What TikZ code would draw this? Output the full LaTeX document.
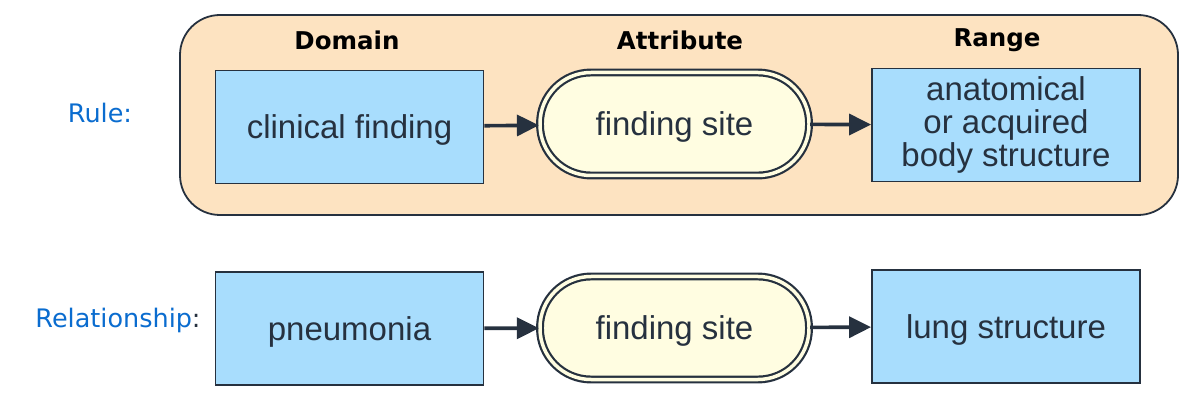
\documentclass[tikz,border=0pt]{standalone}
\usepackage{fontspec}
\setmainfont{Liberation Sans}
\newfontfamily\lblfont{DejaVu Sans}
\usetikzlibrary{arrows.meta}
\definecolor{conceptblue}{HTML}{A8DDFD}
\definecolor{inkdark}{HTML}{26313F}
\definecolor{groupfill}{HTML}{FDE3C1}
\definecolor{attfill}{HTML}{FFFDE1}
\definecolor{rowblue}{HTML}{0A6CCF}
\begin{document}
\begin{tikzpicture}[x=1pt, y=1pt,
    concept/.style = {shape=rectangle, draw=inkdark, line width=1.8pt,
      fill=conceptblue, text=inkdark, align=center,
      minimum width=268pt, minimum height=113pt,
      font=\fontsize{33}{33}\selectfont},
    attrib/.style = {shape=rectangle, rounded corners=51pt, draw=inkdark,
      line width=2.2pt, double=attfill, double distance=3.5pt,
      fill=attfill, text=inkdark, minimum width=269pt, minimum height=103pt,
      text depth=0pt, font=\fontsize{33}{33}\selectfont},
    grouplbl/.style = {font=\lblfont\bfseries\fontsize{24.5}{28}\selectfont},
    rowlbl/.style = {text=rowblue, font=\lblfont\fontsize{25.5}{30}\selectfont},
    link/.style = {draw=inkdark, line width=3.6pt,
      -{Triangle[length=22pt, width=21pt]}}]
  \useasboundingbox (0,0) rectangle (1191,-403);
  % rule group
  \draw[draw=inkdark, line width=1.8pt, fill=groupfill, rounded corners=40pt]
    (180,-15) rectangle (1178,-215);
  \node[grouplbl] (dom) at (347,-40) {Domain};
  \node[grouplbl] (att) at (680,-40) {Attribute};
  \node[grouplbl] (rng) at (997,-40) {Range};
  \node[rowlbl] (rule) at (100,-113) {Rule:};
  \node[concept, text depth=0pt] (clin) at (349.5,-127) {clinical finding};
  \node[attrib] (site1) at (674.5,-124) {finding site};
  \node[concept] (body) at (1006,-125) {anatomical\\or acquired\\body structure};
  \path[link] (clin) -- (site1);
  \path[link] (site1) -- (body);
  % relationship row
  \node[rowlbl] (rel) at (118,-320) {Relationship\textcolor{inkdark}{:}};
  \node[concept, text depth=0pt] (pneu) at (349.5,-328.5) {pneumonia};
  \node[attrib] (site2) at (674.5,-328) {finding site};
  \node[concept, text depth=0pt] (lung) at (1006,-326.5) {lung structure};
  \path[link] (pneu) -- (site2);
  \path[link] (site2) -- (lung);
\end{tikzpicture}
\end{document}
